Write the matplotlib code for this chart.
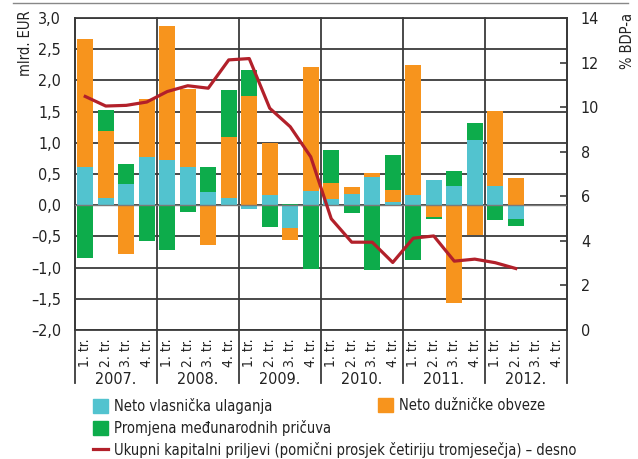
# Kapitalni priljevi i promjena pricuva, tromjesecno 2007.-2012.
import numpy as np
import matplotlib.pyplot as plt
from matplotlib import font_manager as fm
from matplotlib.patches import Patch
from matplotlib.lines import Line2D
from matplotlib.ticker import FuncFormatter
import matplotlib.transforms as mtransforms

# uski font ako postoji
fonts = fm.fontManager.ttflist
narrow = [f for f in fonts if f.name == 'Liberation Sans Narrow']
cond = [f for f in fonts if 'DejaVuSansCondensed.ttf' in f.fname]
if narrow:
    plt.rcParams['font.family'] = ['Liberation Sans Narrow', 'DejaVu Sans']
    fs = 11
elif cond:
    plt.rcParams['font.family'] = ['DejaVu Sans']
    plt.rcParams['font.stretch'] = 'condensed'
    fs = 10
else:
    plt.rcParams['font.family'] = ['Roboto', 'DejaVu Sans']
    fs = 10

# data (mlrd. EUR), 2007 Q1 .. 2012 Q2
years = ['2007.', '2008.', '2009.', '2010.', '2011.', '2012.']
quarters = ['1. tr.', '2. tr.', '3. tr.', '4. tr.']
equity = [0.61, 0.12, 0.345, 0.77, 0.72, 0.61, 0.215, 0.12,
          -0.06, 0.16, -0.37, 0.23, 0.10, 0.18, 0.45, 0.05,
          0.16, 0.40, 0.31, 1.045, 0.31, -0.22]
debt = [2.06, 1.07, -0.78, 0.93, 2.15, 1.26, -0.64, 0.98,
        1.75, 0.83, -0.19, 1.99, 0.25, 0.11, 0.06, 0.20,
        2.08, -0.19, -1.57, -0.47, 1.20, 0.43]
reserves = [-0.84, 0.34, 0.32, -0.58, -0.72, -0.11, 0.39, 0.745,
            0.42, -0.35, 0.02, -1.02, 0.53, -0.13, -1.04, 0.55,
            -0.88, -0.03, 0.24, 0.27, -0.24, -0.11]
# % BDP-a, desna os
inflows = [10.48, 10.05, 10.08, 10.23, 10.7, 10.96, 10.85, 12.12,
           12.18, 9.95, 9.12, 7.77, 4.99, 3.94, 3.94, 3.03,
           4.12, 4.22, 3.09, 3.18, 3.02, 2.76]

c_blue = '#52C3CF'
c_orange = '#F7941D'
c_green = '#0DAC4B'
c_red = '#B2202A'
c_grid = '#3a3a3a'
c_text = '#222222'

fig = plt.figure(figsize=(6.38, 4.59), dpi=100)
ax = fig.add_axes([75/638, 1 - 330/459, 492/638, 312/459])
ax2 = ax.twinx()

x = np.arange(len(equity))
pos = np.zeros(len(x))
neg = np.zeros(len(x))
for vals, col in [(equity, c_blue), (debt, c_orange), (reserves, c_green)]:
    v = np.array(vals)
    bottom = np.where(v >= 0, pos, neg)
    ax.bar(x, v, bottom=bottom, width=0.78, color=col, zorder=3)
    pos = pos + np.where(v >= 0, v, 0)
    neg = neg + np.where(v < 0, v, 0)

ax.axhline(0, color='#7a7a7a', lw=1.0, zorder=4)

ax.set_xlim(-0.5, 23.5)
ax.set_ylim(-2.0, 3.0)
ax.set_yticks(np.arange(-2.0, 3.01, 0.5))
ax.yaxis.set_major_formatter(FuncFormatter(lambda v, p: f'{v:.1f}'.replace('.', ',').replace('-', '\u2013')))
ax.grid(axis='y', color=c_grid, lw=1.3, zorder=0)
ax.tick_params(axis='y', length=0, pad=10, labelsize=fs + 1.5, colors=c_text)

ax.set_xticks(np.arange(24))
ax.set_xticklabels(quarters * 6, rotation=90, fontsize=fs)
ax.tick_params(axis='x', length=0, pad=6, colors=c_text)

for s in ['left', 'right', 'top', 'bottom']:
    ax.spines[s].set_color(c_grid)
    ax.spines[s].set_linewidth(1.3)

# granice godina
trans = mtransforms.blended_transform_factory(ax.transData, ax.transAxes)
for b in [-0.5, 3.5, 7.5, 11.5, 15.5, 19.5, 23.5]:
    ax.add_line(Line2D([b, b], [-0.17, 1], transform=trans, color=c_grid,
                       lw=1.3, clip_on=False, zorder=1))
for i, y in enumerate(years):
    ax.text(4 * i + 1.5, -0.158, y, transform=trans, ha='center', va='center',
            fontsize=fs + 1.5, color=c_text)

ax2.plot(x, inflows, color=c_red, lw=2.3, zorder=5)
ax2.set_ylim(0, 14)
ax2.set_yticks(np.arange(0, 15, 2))
ax2.tick_params(axis='y', direction='in', length=5, width=1.2, color=c_grid,
                pad=10, labelsize=fs + 1.5, labelcolor=c_text)
for s in ax2.spines.values():
    s.set_visible(False)

fig.text(25/638, 1 - 10/459, 'mlrd. EUR', rotation=90, ha='center', va='top',
         fontsize=fs + 0.5, color=c_text)
fig.text(627/638, 1 - 13/459, '% BDP-a', rotation=90, ha='center', va='top',
         fontsize=fs + 0.5, color=c_text)

# linija na vrhu
fig.add_artist(Line2D([13/638, 628/638], [1 - 3/459, 1 - 3/459], color='#888888', lw=1.0))

h1 = [Patch(color=c_blue), Patch(color=c_green), Line2D([], [], color=c_red, lw=2.3)]
l1 = ['Neto vlasnička ulaganja', 'Promjena međunarodnih pričuva',
      'Ukupni kapitalni priljevi (pomični prosjek četiriju tromjesečja) \u2013 desno']
kw = dict(loc='upper left', frameon=False, fontsize=fs + 0.5, handlelength=1.05,
          handleheight=1.05, handletextpad=0.4, borderaxespad=0, borderpad=0)
leg1 = fig.legend(h1, l1, bbox_to_anchor=(93/638, 1 - 398/459), labelspacing=0.42, **kw)
leg2 = fig.legend([Patch(color=c_orange)], ['Neto dužničke obveze'],
                  bbox_to_anchor=(378/638, 1 - 398/459), **kw)
for leg in (leg1, leg2):
    for t in leg.get_texts():
        t.set_color(c_text)

fig.savefig('out.png', dpi=100)
